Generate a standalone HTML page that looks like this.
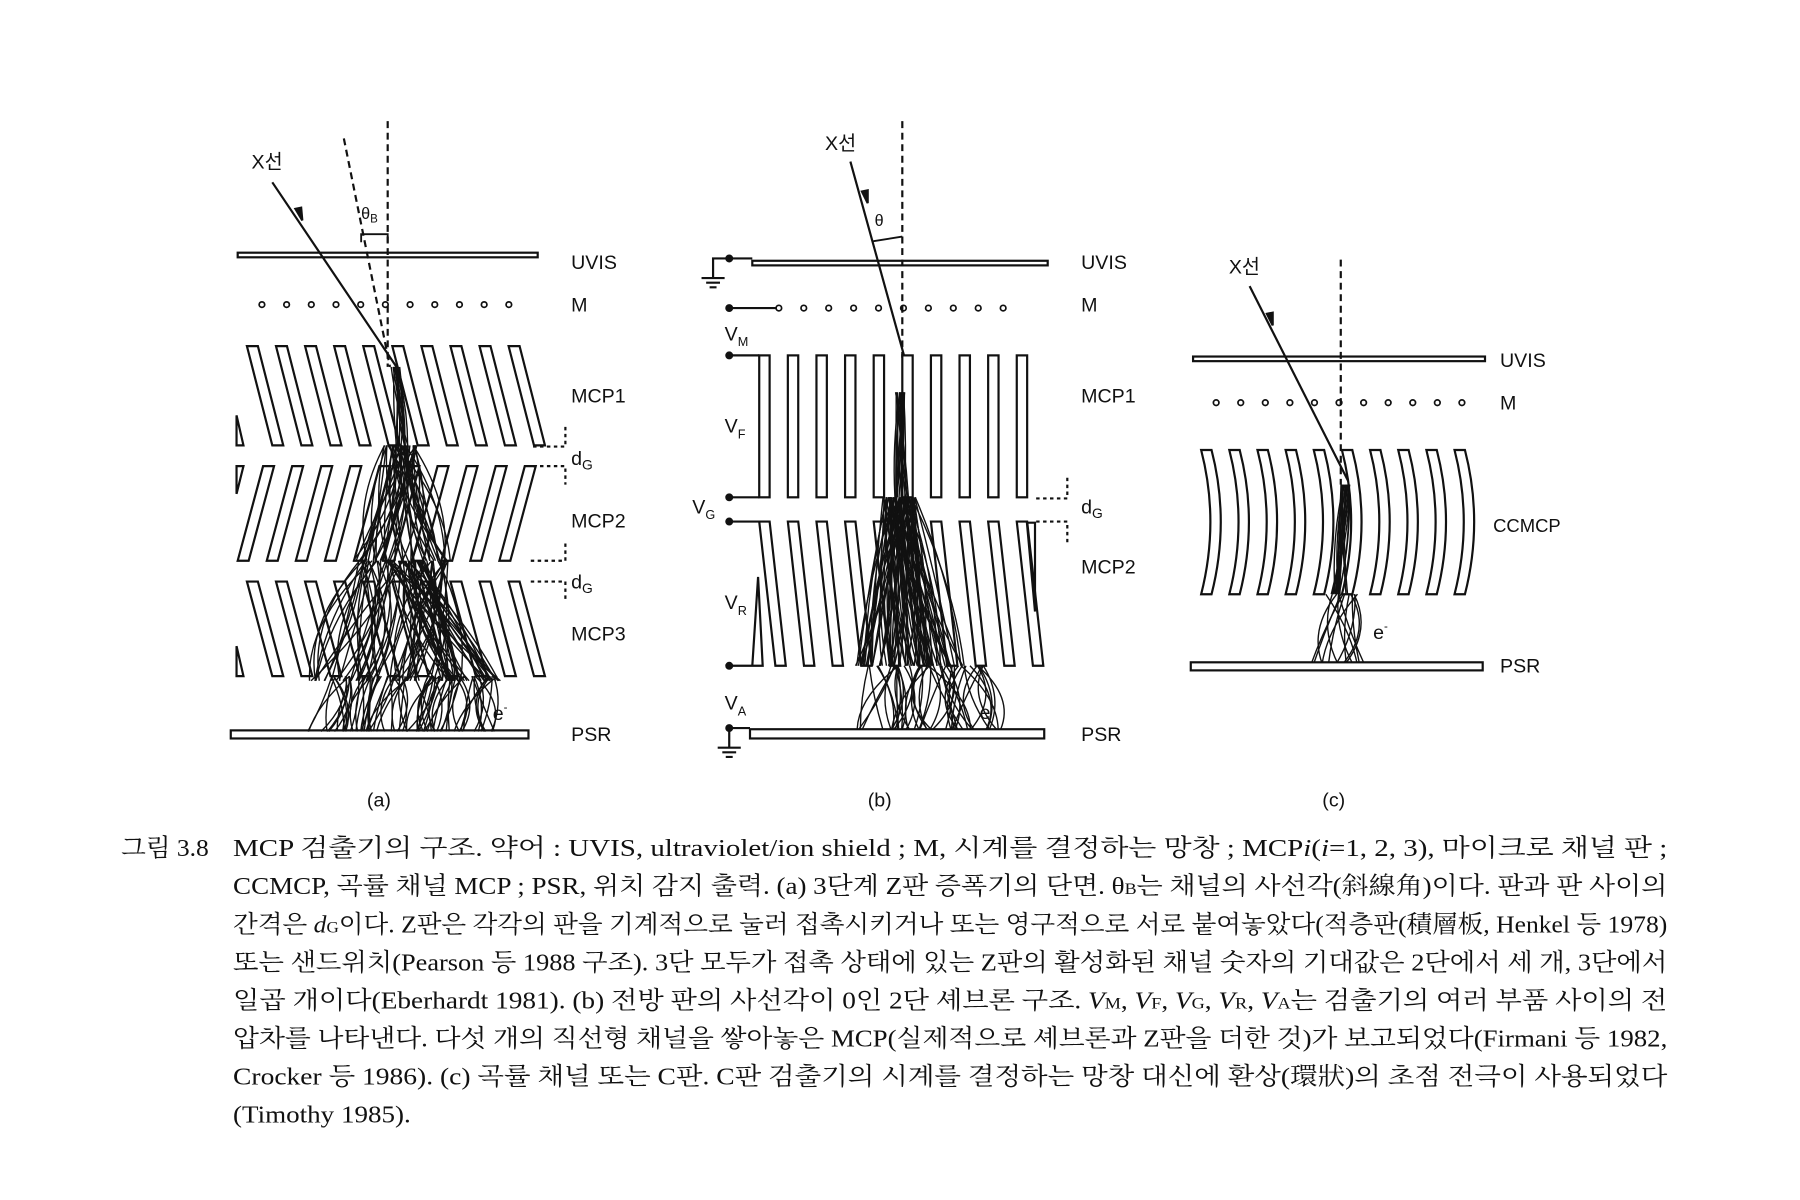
<!DOCTYPE html>
<html><head><meta charset="utf-8">
<style>
html,body{margin:0;padding:0;background:#fff;}
svg{display:block;}
text{font-family:"Liberation Sans","Noto Sans CJK KR",sans-serif;fill:#111;}
.cap{font-family:"Liberation Serif","Noto Serif CJK SC","Noto Sans CJK KR",serif;font-size:21px;}
</style></head>
<body>
<svg id="s" width="1800" height="1200" viewBox="0 0 1560 1040" xmlns="http://www.w3.org/2000/svg">
<g stroke="#111" fill="none" stroke-width="1.9" id="g"></g>
<g font-size="17">
<text x="218" y="146">X선</text>
<text x="313" y="190" font-size="14">θ<tspan font-size="10" dy="3">B</tspan></text>
<text x="495" y="233">UVIS</text>
<text x="495" y="270">M</text>
<text x="495" y="349">MCP1</text>
<text x="495" y="403">d<tspan font-size="12" dy="4">G</tspan></text>
<text x="495" y="457">MCP2</text>
<text x="495" y="510">d<tspan font-size="12" dy="4">G</tspan></text>
<text x="495" y="555">MCP3</text>
<text x="427" y="624">e<tspan font-size="10" dy="-8">-</tspan></text>
<text x="495" y="642">PSR</text>
<text x="318" y="699">(a)</text>

<text x="715" y="130">X선</text>
<text x="758" y="196" font-size="14">θ</text>
<text x="937" y="233">UVIS</text>
<text x="937" y="270">M</text>
<text x="628" y="295">V<tspan font-size="11" dy="5">M</tspan></text>
<text x="628" y="375">V<tspan font-size="11" dy="5">F</tspan></text>
<text x="600" y="445">V<tspan font-size="11" dy="5">G</tspan></text>
<text x="628" y="528">V<tspan font-size="11" dy="5">R</tspan></text>
<text x="628" y="615">V<tspan font-size="11" dy="5">A</tspan></text>
<text x="937" y="349">MCP1</text>
<text x="937" y="445">d<tspan font-size="12" dy="4">G</tspan></text>
<text x="937" y="497">MCP2</text>
<text x="849" y="623">e<tspan font-size="10" dy="-8">-</tspan></text>
<text x="937" y="642">PSR</text>
<text x="752" y="699">(b)</text>

<text x="1065" y="237">X선</text>
<text x="1300" y="318">UVIS</text>
<text x="1300" y="355">M</text>
<text x="1294" y="461" font-size="16">CCMCP</text>
<text x="1190" y="554">e<tspan font-size="10" dy="-8">-</tspan></text>
<text x="1300" y="583">PSR</text>
<text x="1146" y="699">(c)</text>
</g>
<g class="cap">
<text x="105" y="742" class="cap" textLength="76" lengthAdjust="spacingAndGlyphs">그림 3.8</text>
<text x="202" y="742" class="cap" textLength="1243" lengthAdjust="spacingAndGlyphs">MCP 검출기의 구조. 약어 : UVIS, ultraviolet/ion shield ; M, 시계를 결정하는 망창 ; MCP<tspan font-style="italic">i</tspan>(<tspan font-style="italic">i</tspan>=1, 2, 3), 마이크로 채널 판 ;</text>
<text x="202" y="775" class="cap" textLength="1243" lengthAdjust="spacingAndGlyphs">CCMCP, 곡률 채널 MCP ; PSR, 위치 감지 출력. (a) 3단계 Z판 증폭기의 단면. θ<tspan font-size="14">B</tspan>는 채널의 사선각(斜線角)이다. 판과 판 사이의</text>
<text x="202" y="808" class="cap" textLength="1243" lengthAdjust="spacingAndGlyphs">간격은 <tspan font-style="italic">d</tspan><tspan font-size="14">G</tspan>이다. Z판은 각각의 판을 기계적으로 눌러 접촉시키거나 또는 영구적으로 서로 붙여놓았다(적층판(積層板, Henkel 등 1978)</text>
<text x="202" y="841" class="cap" textLength="1243" lengthAdjust="spacingAndGlyphs">또는 샌드위치(Pearson 등 1988 구조). 3단 모두가 접촉 상태에 있는 Z판의 활성화된 채널 숫자의 기대값은 2단에서 세 개, 3단에서</text>
<text x="202" y="874" class="cap" textLength="1243" lengthAdjust="spacingAndGlyphs">일곱 개이다(Eberhardt 1981). (b) 전방 판의 사선각이 0인 2단 셰브론 구조. <tspan font-style="italic">V</tspan><tspan font-size="14">M</tspan>, <tspan font-style="italic">V</tspan><tspan font-size="14">F</tspan>, <tspan font-style="italic">V</tspan><tspan font-size="14">G</tspan>, <tspan font-style="italic">V</tspan><tspan font-size="14">R</tspan>, <tspan font-style="italic">V</tspan><tspan font-size="14">A</tspan>는 검출기의 여러 부품 사이의 전</text>
<text x="202" y="907" class="cap" textLength="1243" lengthAdjust="spacingAndGlyphs">압차를 나타낸다. 다섯 개의 직선형 채널을 쌓아놓은 MCP(실제적으로 셰브론과 Z판을 더한 것)가 보고되었다(Firmani 등 1982,</text>
<text x="202" y="940" class="cap" textLength="1243" lengthAdjust="spacingAndGlyphs">Crocker 등 1986). (c) 곡률 채널 또는 C판. C판 검출기의 시계를 결정하는 망창 대신에 환상(環狀)의 초점 전극이 사용되었다</text>
<text x="202" y="973" class="cap" textLength="154" lengthAdjust="spacingAndGlyphs">(Timothy 1985).</text>
</g>
</svg>
<script>
(function(){
var g=document.getElementById('g'),NS='http://www.w3.org/2000/svg';
function el(t,a){var e=document.createElementNS(NS,t);for(var k in a)e.setAttribute(k,a[k]);g.appendChild(e);return e;}
function P(d,extra){var a={d:d};for(var k in extra)a[k]=extra[k];return el('path',a);}
function L(x1,y1,x2,y2,extra){var a={x1:x1,y1:y1,x2:x2,y2:y2};for(var k in extra)a[k]=extra[k];return el('line',a);}
var seed=7;function r(){seed=(seed*16807)%2147483647;return seed/2147483647;}
function chans(x0,y0,y1,n,sp,w,sl){for(var i=0;i<n;i++){var x=x0+i*sp;P('M'+x+','+y0+'L'+(x+w)+','+y0+'L'+(x+w+sl)+','+y1+'L'+(x+sl)+','+y1+'Z',{fill:'#fff'});}}
function casc(cx0,cx1,y0,y1,n,sw){for(var i=0;i<n;i++){var a=cx0+(r()-.5)*sw,b=cx1+(r()-.5)*sw*1.6;var m1=(a+b)/2+(r()-.5)*sw*1.5;P('M'+a+','+y0+'Q'+m1+','+((y0+y1)/2)+' '+b+','+y1,{'stroke-width':1.2});}}
// ===== (a)
el('rect',{x:206,y:219,width:260,height:4,fill:'#fff'});
for(var i=0;i<11;i++)el('circle',{cx:227+i*21.4,cy:264,r:2.4,'stroke-width':1.5});
L(298,120,338,318,{'stroke-dasharray':'6,4'});L(336,105,336,318,{'stroke-dasharray':'6,4'});
P('M313,210L313,203L336,203L336,210',{'stroke-width':1.6});
L(236,158,345,320);P('M256,181l6,10l-1,-11z',{fill:'#111'});
chans(214,300,386,10,25.2,9.5,22);P('M205,386L205,360L211,386Z');
chans(228,404,486,10,25.2,9.5,-22);P('M205,404L211,404L205,428Z');
chans(214,504,586,10,25.2,9.5,22);P('M205,586L205,560L211,586Z');
el('rect',{x:200,y:633,width:258,height:7,fill:'#fff'});
P('M462,387L490,387L490,368',{'stroke-dasharray':'3,3'});P('M462,404L490,404L490,420',{'stroke-dasharray':'3,3'});
P('M460,486L490,486L490,470',{'stroke-dasharray':'3,3'});P('M460,504L490,504L490,520',{'stroke-dasharray':'3,3'});
casc(343,348,318,386,14,8);
casc(348,330,386,486,26,30);casc(348,370,386,486,22,26);
casc(330,300,486,590,30,40);casc(370,370,486,590,30,40);casc(350,410,486,590,26,30);
for(var k=0;k<6;k++){var bx=285+k*25;casc(bx+10,bx,586,634,12,24);}
// ===== (b)
el('rect',{x:652,y:226,width:256,height:4,fill:'#fff'});
P('M632,224L652,224');el('circle',{cx:632,cy:224,r:2.5,fill:'#111'});
P('M632,224L618,224L618,241M608,241L628,241M612,245L624,245M615,249L621,249');
P('M632,267L673,267');el('circle',{cx:632,cy:267,r:2.5,fill:'#111'});
for(var i=0;i<10;i++)el('circle',{cx:675+i*21.6,cy:267,r:2.4,'stroke-width':1.5});
L(782,105,782,310,{'stroke-dasharray':'6,4'});L(737,140,784,310);P('M747,166l5,10l0,-11z',{fill:'#111'});
P('M757,209L782,205',{'stroke-width':1.6});
for(var i=0;i<10;i++){var x=658+i*24.8;el('rect',{x:x,y:308,width:9,height:123,fill:'#fff'});}
P('M632,308L658,308M632,431L658,431');el('circle',{cx:632,cy:308,r:2.5,fill:'#111'});el('circle',{cx:632,cy:431,r:2.5,fill:'#111'});
chans(658,452,577,10,24.8,9,14);
P('M632,452L658,452M632,577L661,577L657,500L652,577');el('circle',{cx:632,cy:452,r:2.5,fill:'#111'});el('circle',{cx:632,cy:577,r:2.5,fill:'#111'});
P('M897,530L890,453L897,453Z');
el('rect',{x:650,y:632,width:255,height:8,fill:'#fff'});
P('M632,631L650,631M632,631L632,648M622,648L642,648M626,652L638,652M629,656L635,656');el('circle',{cx:632,cy:631,r:2.5,fill:'#111'});
P('M898,432L925,432L925,412',{'stroke-dasharray':'3,3'});P('M898,452L925,452L925,470',{'stroke-dasharray':'3,3'});
casc(780,782,340,431,16,8);
casc(778,760,431,577,30,26);casc(780,790,431,577,28,24);casc(782,818,431,577,26,24);
for(var k=0;k<4;k++){var bx=765+k*27;casc(bx,bx,577,632,12,30);}
// ===== (c)
el('rect',{x:1034,y:309,width:253,height:4,fill:'#fff'});
for(var i=0;i<11;i++)el('circle',{cx:1054+i*21.3,cy:349,r:2.4,'stroke-width':1.5});
L(1162,225,1162,420,{'stroke-dasharray':'6,4'});L(1083,248,1170,420);P('M1098,272l5,10l0,-11z',{fill:'#111'});
for(var i=0;i<10;i++){var x=1041+i*24.4;P('M'+x+',390L'+(x+9)+',390Q'+(x+25)+',452 '+(x+9)+',515L'+x+',515Q'+(x+16)+',452 '+x+',390Z',{fill:'#fff'});}
casc(1166,1160,420,515,18,10);
casc(1162,1160,515,576,14,30);
el('rect',{x:1032,y:574,width:253,height:7,fill:'#fff'});
})();
</script>
</body></html>
